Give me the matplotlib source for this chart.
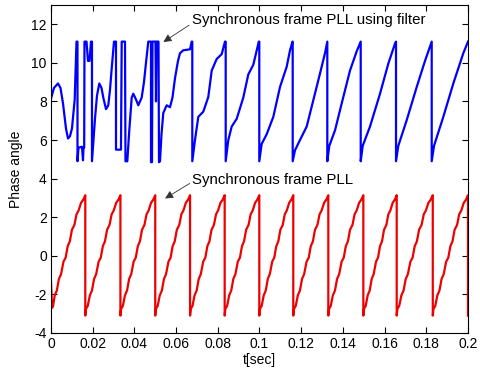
import numpy as np
import matplotlib
matplotlib.use("Agg")
import matplotlib.pyplot as plt

# ---------------- data ----------------
# Blue trace: synchronous frame PLL using filter (time [s], phase)
blue_t = [0.0, 0.00144, 0.00336, 0.00456, 0.00576, 0.00719, 0.00815, 0.00911, 0.01007, 0.01137,
          0.01223, 0.01271, 0.01271, 0.01319, 0.01487, 0.01535, 0.01559, 0.01592, 0.01607, 0.01703,
          0.01775, 0.01847, 0.01918, 0.01966, 0.01966, 0.02038, 0.0211, 0.02206, 0.02317, 0.02422,
          0.02508, 0.02638, 0.02748, 0.0283, 0.02911, 0.03022, 0.03118, 0.03118, 0.03165, 0.03357,
          0.03391, 0.03549, 0.03573, 0.0366, 0.03755, 0.03871, 0.03947, 0.04077, 0.04187, 0.0435,
          0.0446, 0.04556, 0.04667, 0.04796, 0.04796, 0.04844, 0.04868, 0.05012, 0.05036, 0.0506,
          0.05156, 0.0518, 0.05228, 0.053, 0.05386, 0.05549, 0.05707, 0.05827, 0.05947, 0.06091,
          0.06187, 0.06345, 0.06667, 0.06748, 0.06777, 0.06777, 0.06906, 0.07065, 0.07305, 0.07544,
          0.07708, 0.07947, 0.08187, 0.08345, 0.08379, 0.08379, 0.08504, 0.08667, 0.08907, 0.09223,
          0.09463, 0.09703, 0.09966, 0.0999, 0.0999, 0.10105, 0.10345, 0.10662, 0.10984, 0.11305,
          0.11463, 0.11583, 0.11592, 0.11592, 0.11703, 0.11942, 0.12264, 0.1258, 0.12902, 0.13141,
          0.13252, 0.13252, 0.13348, 0.13621, 0.13943, 0.1434, 0.14662, 0.14854, 0.14854, 0.1495,
          0.153, 0.1578, 0.16178, 0.16499, 0.16547, 0.16547, 0.16657, 0.1706, 0.1754, 0.17938,
          0.18259, 0.18259, 0.1837, 0.18815, 0.19295, 0.19775, 0.2]
blue_v = [8.15, 8.7, 8.93, 8.7, 7.9, 6.6, 6.08, 6.2, 6.6, 8.1,
          11.1, 11.1, 4.9, 5.6, 5.65, 4.95, 5.6, 5.6, 11.1, 11.1,
          10.1, 10.1, 11.1, 11.1, 4.9, 6.0, 7.1, 8.3, 8.93, 8.7,
          8.2, 7.6, 7.8, 8.6, 9.7, 11.1, 11.1, 5.5, 5.5, 5.5,
          11.1, 11.1, 4.9, 4.9, 6.5, 8.2, 8.4, 8.1, 7.8, 8.2,
          9.0, 10.0, 11.1, 11.1, 4.85, 4.85, 11.1, 11.1, 8.0, 11.1,
          11.1, 4.85, 4.9, 6.3, 7.4, 7.8, 7.7, 8.2, 9.2, 10.1,
          10.5, 10.65, 10.7, 11.1, 11.1, 4.9, 6.0, 7.2, 7.47, 8.23,
          9.6, 10.2, 10.45, 11.1, 11.1, 4.9, 6.0, 6.7, 7.1, 8.2,
          9.4, 9.9, 11.1, 11.1, 4.9, 5.8, 6.3, 7.2, 8.75, 9.8,
          10.65, 11.1, 11.1, 4.9, 5.47, 6.0, 6.7, 8.06, 9.45, 10.5,
          11.1, 4.9, 5.7, 6.5, 7.9, 9.6, 10.6, 11.1, 4.9, 5.7,
          6.7, 8.4, 9.96, 11.0, 11.1, 4.9, 5.7, 7.03, 8.75, 10.1,
          11.1, 4.9, 5.7, 7.2, 8.93, 10.5, 11.1]

# Red trace: synchronous frame PLL (start transient, then cycles)
red_start_t = [0.0, 0.0005, 0.001]
red_start_v = [-1.3, -2.7, -2.6]
red_wrap_t = [0.01645, 0.0333, 0.05, 0.0667, 0.0833, 0.0999, 0.1162, 0.133, 0.1498, 0.1658, 0.1831, 0.2]
# one cycle of the stepped ramp (fraction of cycle, phase)
cycle_frac = [0.0, 0.02, 0.07, 0.13, 0.19, 0.25, 0.31, 0.38, 0.44, 0.5, 0.56, 0.62, 0.69, 0.75, 0.81, 0.88, 0.94, 1.0]
cycle_v = [-3.1, -2.75, -2.6, -2.05, -1.8, -1.2, -0.95, -0.3, -0.1, 0.5, 0.75, 1.35, 1.6, 2.15, 2.35, 2.75, 2.9, 3.14]

x_ticks = [0, 0.02, 0.04, 0.06, 0.08, 0.1, 0.12, 0.14, 0.16, 0.18, 0.2]
x_labels = ["0", "0.02", "0.04", "0.06", "0.08", "0.1", "0.12", "0.14", "0.16", "0.18", "0.2"]
y_ticks = [-4, -2, 0, 2, 4, 6, 8, 10, 12]
y_labels = ["-4", "-2", "0", "2", "4", "6", "8", "10", "12"]

# ---------------- build the red trace ----------------
red_t = list(red_start_t)
red_v = list(red_start_v)
first_start = red_wrap_t[0] - (red_wrap_t[1] - red_wrap_t[0])
for f, v in zip(cycle_frac, cycle_v):
    t = first_start + f * (red_wrap_t[0] - first_start)
    if t > red_start_t[-1]:
        red_t.append(t)
        red_v.append(v)
for s, e in zip(red_wrap_t[:-1], red_wrap_t[1:]):
    for f, v in zip(cycle_frac, cycle_v):
        red_t.append(s + f * (e - s))
        red_v.append(v)
red_t.append(red_wrap_t[-1])
red_v.append(cycle_v[0])

# ---------------- plot ----------------
plt.rcParams['font.family'] = ['Liberation Sans', 'DejaVu Sans']
plt.rcParams['axes.unicode_minus'] = False
fig = plt.figure(figsize=(4.81, 3.69), dpi=100)
ax = fig.add_axes([0.106, 0.0976, 0.867, 0.889])

ax.plot(blue_t, blue_v, color='#0000ff', lw=1.6)
ax.plot(red_t, red_v, color='#ee0000', lw=1.6)

ax.set_xlim(0, 0.2)
ax.set_ylim(-4, 13)
ax.set_xticks(x_ticks)
ax.set_xticklabels(x_labels)
ax.set_yticks(y_ticks)
ax.set_yticklabels(y_labels)
ax.tick_params(direction='in', top=True, right=True, labelsize=10, length=4, width=0.8, pad=3)
for sp in ax.spines.values():
    sp.set_linewidth(0.8)

ax.set_xlabel('t[sec]', fontsize=10, labelpad=1)
ax.set_ylabel('Phase angle', fontsize=10, labelpad=6)

ax.text(0.0676, 12.2, 'Synchronous frame PLL using filter', fontsize=10.8, ha='left', va='center')
ax.annotate('', xy=(0.0539, 11.08), xytext=(0.0662, 11.95),
            arrowprops=dict(arrowstyle='-|>', color='#333333', lw=0.6, mutation_scale=12,
                            shrinkA=0, shrinkB=0, facecolor='k'))
ax.text(0.0676, 3.95, 'Synchronous frame PLL', fontsize=10.8, ha='left', va='center')
ax.annotate('', xy=(0.0547, 2.97), xytext=(0.0665, 3.75),
            arrowprops=dict(arrowstyle='-|>', color='#333333', lw=0.6, mutation_scale=12,
                            shrinkA=0, shrinkB=0, facecolor='k'))

fig.savefig('out.png', dpi=100)
